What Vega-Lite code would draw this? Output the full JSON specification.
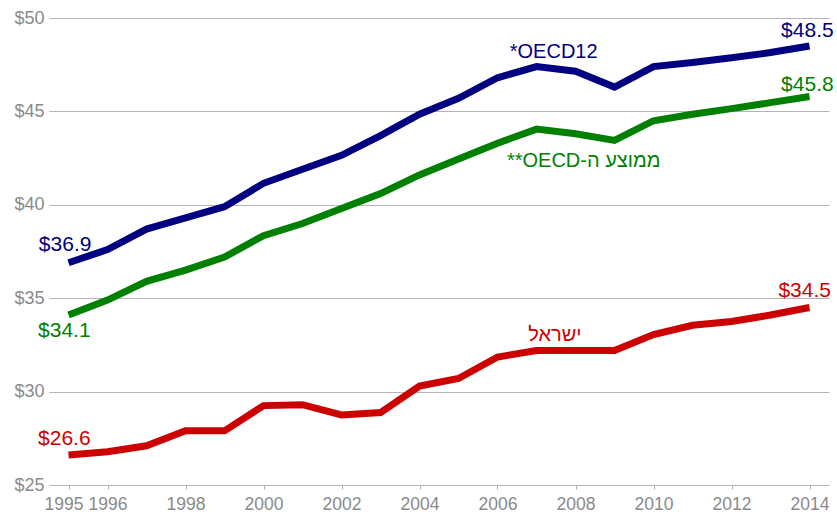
{
  "$schema": "https://vega.github.io/schema/vega-lite/v6.json",
  "width": 780,
  "height": 467,
  "autosize": {"type": "none"},
  "padding": {"left": 49, "top": 18, "right": 8, "bottom": 33},
  "background": "white",
  "config": {"view": {"stroke": null}, "font": "Liberation Sans"},
  "datasets": {
    "series": [
      {"year": 1995, "series": "OECD12", "value": 36.9},
      {"year": 1996, "series": "OECD12", "value": 37.6},
      {"year": 1997, "series": "OECD12", "value": 38.7},
      {"year": 1998, "series": "OECD12", "value": 39.3},
      {"year": 1999, "series": "OECD12", "value": 39.9},
      {"year": 2000, "series": "OECD12", "value": 41.15},
      {"year": 2001, "series": "OECD12", "value": 41.9},
      {"year": 2002, "series": "OECD12", "value": 42.65},
      {"year": 2003, "series": "OECD12", "value": 43.7},
      {"year": 2004, "series": "OECD12", "value": 44.85},
      {"year": 2005, "series": "OECD12", "value": 45.7},
      {"year": 2006, "series": "OECD12", "value": 46.8},
      {"year": 2007, "series": "OECD12", "value": 47.4},
      {"year": 2008, "series": "OECD12", "value": 47.15},
      {"year": 2009, "series": "OECD12", "value": 46.3},
      {"year": 2010, "series": "OECD12", "value": 47.4},
      {"year": 2011, "series": "OECD12", "value": 47.62},
      {"year": 2012, "series": "OECD12", "value": 47.87},
      {"year": 2013, "series": "OECD12", "value": 48.15},
      {"year": 2014, "series": "OECD12", "value": 48.5},
      {"year": 1995, "series": "OECD", "value": 34.1},
      {"year": 1996, "series": "OECD", "value": 34.9},
      {"year": 1997, "series": "OECD", "value": 35.9},
      {"year": 1998, "series": "OECD", "value": 36.5},
      {"year": 1999, "series": "OECD", "value": 37.2},
      {"year": 2000, "series": "OECD", "value": 38.35},
      {"year": 2001, "series": "OECD", "value": 39.0},
      {"year": 2002, "series": "OECD", "value": 39.8},
      {"year": 2003, "series": "OECD", "value": 40.6},
      {"year": 2004, "series": "OECD", "value": 41.6},
      {"year": 2005, "series": "OECD", "value": 42.45},
      {"year": 2006, "series": "OECD", "value": 43.3},
      {"year": 2007, "series": "OECD", "value": 44.05},
      {"year": 2008, "series": "OECD", "value": 43.8},
      {"year": 2009, "series": "OECD", "value": 43.45},
      {"year": 2010, "series": "OECD", "value": 44.5},
      {"year": 2011, "series": "OECD", "value": 44.85},
      {"year": 2012, "series": "OECD", "value": 45.15},
      {"year": 2013, "series": "OECD", "value": 45.47},
      {"year": 2014, "series": "OECD", "value": 45.8},
      {"year": 1995, "series": "Israel", "value": 26.6},
      {"year": 1996, "series": "Israel", "value": 26.78},
      {"year": 1997, "series": "Israel", "value": 27.1},
      {"year": 1998, "series": "Israel", "value": 27.9},
      {"year": 1999, "series": "Israel", "value": 27.9},
      {"year": 2000, "series": "Israel", "value": 29.25},
      {"year": 2001, "series": "Israel", "value": 29.3},
      {"year": 2002, "series": "Israel", "value": 28.75},
      {"year": 2003, "series": "Israel", "value": 28.88},
      {"year": 2004, "series": "Israel", "value": 30.3},
      {"year": 2005, "series": "Israel", "value": 30.7},
      {"year": 2006, "series": "Israel", "value": 31.85},
      {"year": 2007, "series": "Israel", "value": 32.2},
      {"year": 2008, "series": "Israel", "value": 32.2},
      {"year": 2009, "series": "Israel", "value": 32.2},
      {"year": 2010, "series": "Israel", "value": 33.05},
      {"year": 2011, "series": "Israel", "value": 33.55},
      {"year": 2012, "series": "Israel", "value": 33.75},
      {"year": 2013, "series": "Israel", "value": 34.1},
      {"year": 2014, "series": "Israel", "value": 34.5}
    ],
    "leftLabels": [
      {"series": "OECD12", "label": "$36.9", "x": 1994.24, "y": 37.85},
      {"series": "OECD", "label": "$34.1", "x": 1994.22, "y": 33.24},
      {"series": "Israel", "label": "$26.6", "x": 1994.22, "y": 27.44}
    ],
    "rightLabels": [
      {"series": "OECD12", "label": "$48.5", "x": 2014.62, "y": 49.33},
      {"series": "OECD", "label": "$45.8", "x": 2014.62, "y": 46.44},
      {"series": "Israel", "label": "$34.5", "x": 2014.55, "y": 35.36}
    ],
    "nameLabels": [
      {"series": "OECD12", "label": "*OECD12", "x": 2007.44, "y": 48.18},
      {"series": "Israel", "label": "ישראל", "x": 2007.47, "y": 33.03},
      {"series": "OECD", "label": "**OECD-ממוצע ה", "x": 2008.21, "y": 42.34}
    ]
  },
  "encoding": {
    "color": {
      "field": "series",
      "type": "nominal",
      "scale": {"domain": ["OECD12", "OECD", "Israel"], "range": ["#000080", "#008000", "#cc0000"]},
      "legend": null
    }
  },
  "layer": [
    {
      "data": {"name": "series"},
      "mark": {"type": "line", "strokeWidth": 7, "strokeJoin": "miter"},
      "encoding": {
        "x": {
          "field": "year",
          "type": "quantitative",
          "scale": {"domain": [1994.5, 2014.5], "nice": false, "zero": false},
          "axis": {
            "title": null,
            "values": [1995, 1996, 1998, 2000, 2002, 2004, 2006, 2008, 2010, 2012, 2014],
            "format": "d",
            "grid": false,
            "domain": false,
            "ticks": true,
            "tickSize": 4,
            "tickColor": "#b0b0b0",
            "labelFontSize": 17.5,
            "labelColor": "#8a8a8a",
            "labelPadding": 6,
            "labelOverlap": false,
            "labelFlush": false,
            "labelOffset": {"condition": {"test": "datum.value == 1995", "value": -5}, "value": 0}
          }
        },
        "y": {
          "field": "value",
          "type": "quantitative",
          "scale": {"domain": [25, 50], "nice": false, "zero": false},
          "axis": {
            "title": null,
            "values": [25, 30, 35, 40, 45, 50],
            "labelExpr": "'$' + datum.value",
            "grid": true,
            "gridColor": "#b4b4b4",
            "gridWidth": 1.2,
            "domain": false,
            "ticks": false,
            "labelFontSize": 18,
            "labelColor": "#8a8a8a",
            "labelPadding": 5
          }
        },
        "detail": {"field": "series"}
      }
    },
    {
      "data": {"name": "leftLabels"},
      "mark": {"type": "text", "align": "left", "baseline": "middle", "fontSize": 21},
      "encoding": {
        "x": {"field": "x", "type": "quantitative"},
        "y": {"field": "y", "type": "quantitative"},
        "text": {"field": "label"}
      }
    },
    {
      "data": {"name": "rightLabels"},
      "mark": {"type": "text", "align": "right", "baseline": "middle", "fontSize": 21},
      "encoding": {
        "x": {"field": "x", "type": "quantitative"},
        "y": {"field": "y", "type": "quantitative"},
        "text": {"field": "label"}
      }
    },
    {
      "data": {"name": "nameLabels"},
      "mark": {"type": "text", "align": "center", "baseline": "middle", "fontSize": 20},
      "encoding": {
        "x": {"field": "x", "type": "quantitative"},
        "y": {"field": "y", "type": "quantitative"},
        "text": {"field": "label"}
      }
    }
  ]
}
